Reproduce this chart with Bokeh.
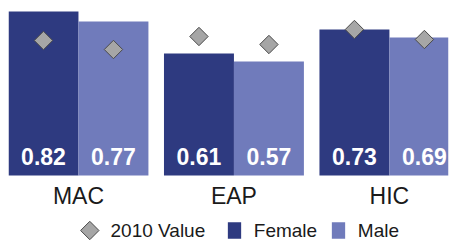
import numpy as np
from bokeh.plotting import figure
from bokeh.models import ColumnDataSource, Range1d
from bokeh.core.properties import value
from bokeh.embed import file_html
from bokeh.resources import INLINE

# ---- data ----
categories = ["MAC", "EAP", "HIC"]
female = [0.82, 0.61, 0.73]
male = [0.77, 0.57, 0.69]
female_2010 = [0.675, 0.695, 0.73]
male_2010 = [0.63, 0.655, 0.68]
legend_labels = ["2010 Value", "Female", "Male"]

FEMALE_C = "#2e3a80"
MALE_C = "#707bbb"
DIAMOND_FILL = "#a6a6a6"
DIAMOND_LINE = "#4a4a4a"
TEXT_C = "#1a1a1a"
FONT = "Liberation Sans"

W, H = 456, 242
FL, FT, FR, FB = 8, 8, 8, 0          # frame borders
FW, FH = W - FL - FR, H - FT - FB
X0, X1 = -0.45, 2.38
Y1 = 0.835
Y0 = Y1 - FH / 200.0
BW = 0.45

p = figure(width=W, height=H, output_backend="svg", toolbar_location=None,
           x_range=Range1d(X0, X1), y_range=Range1d(Y0, Y1),
           min_border_left=FL, min_border_right=FR,
           min_border_top=FT, min_border_bottom=FB)
p.xaxis.visible = False
p.yaxis.visible = False
p.grid.visible = False
p.outline_line_color = None
p.background_fill_color = "white"
p.border_fill_color = "white"

idx = np.arange(len(categories))
src = ColumnDataSource(dict(
    xf=idx - BW / 2, xm=idx + BW / 2, xc=idx,
    female=female, male=male, f10=female_2010, m10=male_2010,
    fl=[f"{v:.2f}" for v in female], ml=[f"{v:.2f}" for v in male],
    cat=categories, zero=[0] * len(categories),
))

p.vbar(x="xf", top="female", width=BW, bottom=0, source=src,
       fill_color=FEMALE_C, line_color=None)
p.vbar(x="xm", top="male", width=BW, bottom=0, source=src,
       fill_color=MALE_C, line_color=None)

p.scatter(x="xf", y="f10", source=src, marker="square", angle=np.pi / 4,
          size=13, fill_color=DIAMOND_FILL, line_color=DIAMOND_LINE, line_width=1)
p.scatter(x="xm", y="m10", source=src, marker="square", angle=np.pi / 4,
          size=13, fill_color=DIAMOND_FILL, line_color=DIAMOND_LINE, line_width=1)

# value labels
for xcol, lcol in (("xf", "fl"), ("xm", "ml")):
    p.text(x=xcol, y="zero", text=lcol, source=src, y_offset=-19.5,
           text_align="center", text_baseline="alphabetic",
           text_font=value(FONT), text_font_style="bold",
           text_font_size="23px", text_color="white")

# category labels
p.text(x="xc", y="zero", text="cat", source=src, y_offset=20.5,
       text_align="center", text_baseline="alphabetic",
       text_font=value(FONT), text_font_size="23px", text_color=TEXT_C)

# ---- manual legend (pixel layout converted to data coords) ----
PX_PER_X = FW / (X1 - X0)
PX_PER_Y = FH / (Y1 - Y0)


def px_x(px):
    return X0 + (px - FL) / PX_PER_X


def px_y(py):
    return Y1 - (py - FT) / PX_PER_Y


leg_cy = 230
leg_base = 229.8
p.scatter(x=[px_x(89.3)], y=[px_y(leg_cy)], marker="square", angle=np.pi / 4,
          size=13, fill_color=DIAMOND_FILL, line_color=DIAMOND_LINE, line_width=1)
p.rect(x=[px_x(234), px_x(338)], y=[px_y(leg_cy)] * 2,
       width=13.3, height=16.7, width_units="screen", height_units="screen",
       fill_color=[FEMALE_C, MALE_C], line_color=None)
p.text(x=[px_x(110), px_x(253.3), px_x(357.3)], y=[px_y(leg_base)] * 3,
       text=legend_labels, text_align="left", text_baseline="alphabetic",
       text_font=value(FONT), text_font_size="19px", text_color=TEXT_C)

open("out.html", "w").write(file_html(p, INLINE))
